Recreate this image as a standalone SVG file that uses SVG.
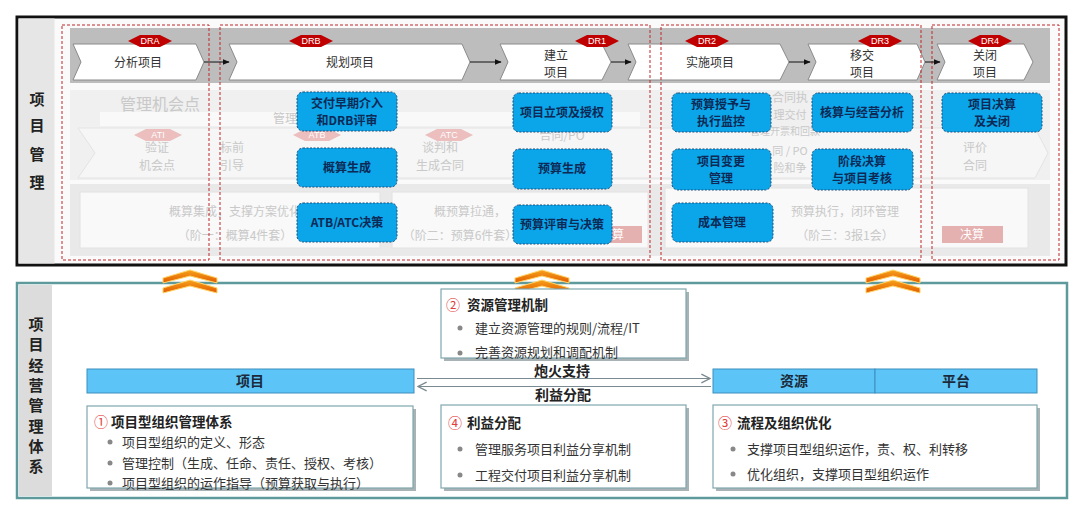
<svg xmlns="http://www.w3.org/2000/svg" width="1080" height="516" viewBox="0 0 1080 516">
<defs>
<style>
text{font-family:"Noto Sans CJK SC","Noto Sans",sans-serif;}
.lbl{font-size:15px;font-weight:bold;fill:#222;text-anchor:middle;}
.step{fill:#fff;stroke:#8a8a8a;stroke-width:1;}
.stxt{font-size:12px;fill:#333;text-anchor:middle;}
.dr{fill:#c00000;}
.drt{font-size:9px;fill:#fff;text-anchor:middle;font-family:"Liberation Sans",sans-serif;}
.dash{fill:none;stroke:#c0262b;stroke-width:1;stroke-dasharray:3,2;}
.blue{fill:#0ba5ea;stroke:#1d4f7a;stroke-width:1;stroke-dasharray:2,1.5;}
.btxt{font-size:12px;fill:#0c2a55;text-anchor:middle;font-weight:bold;}
.fade{font-size:12px;fill:#c4c4c4;text-anchor:middle;}
.fadeA{fill:#ebb8b8;}
.fadeAt{font-size:9px;fill:#fff;text-anchor:middle;font-family:"Liberation Sans",sans-serif;}
.hdr{fill:#5cc4f7;stroke:#3d8fbd;stroke-width:1;}
.htxt{font-size:14px;font-weight:bold;fill:#1b2a3a;text-anchor:middle;}
.card{fill:#fff;stroke:#7fa7ad;stroke-width:1.2;}
.shadow{fill:#a9b3b6;}
.ttl{font-size:13.5px;font-weight:bold;fill:#222;}
.num{font-size:14px;fill:#e23b3b;}
.bul{font-size:13px;fill:#333;}
.dot{fill:#888;}
.flow{stroke:#7a8a90;stroke-width:1.2;fill:none;}
.chev{fill:url(#og);stroke:#ffd56a;stroke-width:1;}
</style>
<linearGradient id="og" x1="0" y1="0" x2="0" y2="1">
<stop offset="0" stop-color="#f7a21b"/>
<stop offset="1" stop-color="#e25a00"/>
</linearGradient>
<marker id="ah" viewBox="0 0 10 10" refX="9" refY="5" markerWidth="7" markerHeight="7" orient="auto-start-reverse">
<path d="M0,1 L10,5 L0,9 Z" fill="#111"/>
</marker>
<marker id="oh" viewBox="0 0 10 10" refX="9" refY="5" markerWidth="9" markerHeight="9" orient="auto-start-reverse">
<path d="M1,1 L9,5 L1,9" fill="none" stroke="#7a8a90" stroke-width="1.2"/>
</marker>
</defs>

<rect width="1080" height="516" fill="#fff"/>

<!-- Top panel -->
<g id="top-panel">
<rect x="17" y="17" width="1049" height="248" fill="#fafafa" stroke="#111" stroke-width="3"/>
<rect x="18.5" y="18.5" width="36" height="245" fill="#e6e6e6"/>
<text class="lbl" x="37" y="105">项</text>
<text class="lbl" x="37" y="131">目</text>
<text class="lbl" x="37" y="160">管</text>
<text class="lbl" x="37" y="188">理</text>
<rect x="70" y="28" width="980" height="55" fill="#bdbdbd"/>
</g>

<!-- faded background content -->
<g id="faded" opacity="0.9">
<rect x="70" y="90" width="980" height="90" fill="#efefef"/>
<rect x="100" y="112" width="540" height="14" fill="#f9f9f9"/>
<polygon points="78,128 1035,128 1048,153 1035,178 78,178 95,153" fill="#f6f6f6" stroke="#e2e2e2"/>
<text class="fade" x="160" y="110" style="font-size:16px">管理机会点</text>
<text class="fade" x="285" y="123">管理</text>
<polygon class="fadeA" points="134,135 146,129 170,129 182,135 170,141 146,141"/>
<text class="fadeAt" x="158" y="138">ATI</text>
<polygon class="fadeA" points="293,135 305,129 329,129 341,135 329,141 305,141"/>
<text class="fadeAt" x="317" y="138">ATB</text>
<polygon class="fadeA" points="425,135 437,129 461,129 473,135 461,141 437,141"/>
<text class="fadeAt" x="449" y="138">ATC</text>
<text class="fade" x="157" y="152">验证</text>
<text class="fade" x="157" y="170">机会点</text>
<text class="fade" x="232" y="152">标前</text>
<text class="fade" x="232" y="170">引导</text>
<text class="fade" x="440" y="152">谈判和</text>
<text class="fade" x="440" y="170">生成合同</text>
<text class="fade" x="562" y="140">合同/PO</text>
<text class="fade" x="790" y="102" style="font-size:12px">合同执</text>
<text class="fade" x="790" y="119" style="font-size:11px">理交付</text>
<text class="fade" x="785" y="135" style="font-size:10px">管理开票和回款</text>
<text class="fade" x="790" y="155" style="font-size:11px">同 / PO</text>
<text class="fade" x="790" y="172" style="font-size:11px">险和争</text>
<text class="fade" x="975" y="152">评价</text>
<text class="fade" x="975" y="170">合同</text>
<rect x="70" y="184" width="980" height="72" fill="#e8e8e8"/>
<rect x="80" y="192" width="300" height="56" fill="#f9f9f9" stroke="#e0e0e0"/>
<rect x="392" y="192" width="256" height="56" fill="#f9f9f9" stroke="#e0e0e0"/>
<rect x="665" y="188" width="363" height="60" fill="#f9f9f9" stroke="#e0e0e0"/>
<text class="fade" x="235" y="216">概算集成，支撑方案优化</text>
<text class="fade" x="235" y="240">（阶一：概算4件套）</text>
<text class="fade" x="470" y="216">概预算拉通，</text>
<text class="fade" x="460" y="240">（阶二：预算6件套）</text>
<text class="fade" x="845" y="216">预算执行，闭环管理</text>
<text class="fade" x="845" y="240">（阶三：3报1会）</text>
<rect x="582" y="226" width="60" height="17" fill="#e3a8a8"/>
<text x="612" y="239" style="font-size:12px;fill:#fff;text-anchor:middle">决算</text>
<rect x="942" y="226" width="61" height="17" fill="#e3a8a8"/>
<text x="972" y="239" style="font-size:12px;fill:#fff;text-anchor:middle">决算</text>
</g>

<!-- process steps -->
<g id="step-analyze">
<polygon class="step" points="73,44 196,44 204,62 196,80 73,80 81,62"/>
<text class="stxt" x="138" y="67">分析项目</text>
</g>
<g id="step-plan">
<polygon class="step" points="229,44 462,44 470,62 462,80 229,80 237,62"/>
<text class="stxt" x="350" y="67">规划项目</text>
</g>
<g id="step-establish">
<polygon class="step" points="500,44 602,44 611,62 602,80 500,80 508,62"/>
<text class="stxt" x="556" y="60">建立</text>
<text class="stxt" x="556" y="77">项目</text>
</g>
<g id="step-implement">
<polygon class="step" points="628,44 780,44 789,62 780,80 628,80 636,62"/>
<text class="stxt" x="710" y="67">实施项目</text>
</g>
<g id="step-transfer">
<polygon class="step" points="808,44 917,44 925,62 917,80 808,80 816,62"/>
<text class="stxt" x="862" y="60">移交</text>
<text class="stxt" x="862" y="77">项目</text>
</g>
<g id="step-close">
<polygon class="step" points="937,44 1024,44 1033,62 1024,80 937,80 945,62"/>
<text class="stxt" x="985" y="60">关闭</text>
<text class="stxt" x="985" y="77">项目</text>
</g>

<!-- DR markers -->
<g id="dr-markers">
<polygon class="dr" points="128,41 140,35 160,35 172,41 160,47 140,47"/><text class="drt" x="150" y="44">DRA</text>
<polygon class="dr" points="289,41 301,35 321,35 333,41 321,47 301,47"/><text class="drt" x="311" y="44">DRB</text>
<polygon class="dr" points="575,41 587,35 607,35 619,41 607,47 587,47"/><text class="drt" x="597" y="44">DR1</text>
<polygon class="dr" points="685,41 697,35 717,35 729,41 717,47 697,47"/><text class="drt" x="707" y="44">DR2</text>
<polygon class="dr" points="858,41 870,35 890,35 902,41 890,47 870,47"/><text class="drt" x="880" y="44">DR3</text>
<polygon class="dr" points="968,41 980,35 1000,35 1012,41 1000,47 980,47"/><text class="drt" x="990" y="44">DR4</text>
</g>

<!-- phase dashed frames -->
<g id="phase-frames">
<rect class="dash" x="62" y="25" width="147" height="235"/>
<rect class="dash" x="220" y="25" width="430" height="235"/>
<rect class="dash" x="661" y="25" width="260" height="235"/>
<rect class="dash" x="932" y="25" width="127" height="235"/>
</g>

<!-- blue activity boxes -->
<g id="box-early"><rect class="blue" x="297" y="92" width="100" height="39" rx="6"/><text class="btxt" x="347" y="108">交付早期介入</text><text class="btxt" x="347" y="125">和DRB评审</text></g>
<g id="box-estimate"><rect class="blue" x="297" y="148" width="100" height="39" rx="6"/><text class="btxt" x="347" y="172">概算生成</text></g>
<g id="box-atb"><rect class="blue" x="297" y="203" width="100" height="39" rx="6"/><text class="btxt" x="347" y="227">ATB/ATC决策</text></g>
<g id="box-approve"><rect class="blue" x="513" y="93" width="99" height="39" rx="6"/><text class="btxt" x="562" y="117">项目立项及授权</text></g>
<g id="box-budget"><rect class="blue" x="513" y="149" width="99" height="40" rx="6"/><text class="btxt" x="562" y="173">预算生成</text></g>
<g id="box-review"><rect class="blue" x="513" y="205" width="99" height="39" rx="6"/><text class="btxt" x="562" y="229">预算评审与决策</text></g>
<g id="box-grant"><rect class="blue" x="672" y="93" width="99" height="39" rx="6"/><text class="btxt" x="721" y="109">预算授予与</text><text class="btxt" x="721" y="126">执行监控</text></g>
<g id="box-change"><rect class="blue" x="672" y="149" width="99" height="41" rx="6"/><text class="btxt" x="721" y="166">项目变更</text><text class="btxt" x="721" y="183">管理</text></g>
<g id="box-cost"><rect class="blue" x="672" y="203" width="101" height="39" rx="6"/><text class="btxt" x="722" y="227">成本管理</text></g>
<g id="box-account"><rect class="blue" x="812" y="93" width="101" height="39" rx="6"/><text class="btxt" x="862" y="117">核算与经营分析</text></g>
<g id="box-stage"><rect class="blue" x="812" y="149" width="101" height="41" rx="6"/><text class="btxt" x="862" y="166">阶段决算</text><text class="btxt" x="862" y="183">与项目考核</text></g>
<g id="box-final"><rect class="blue" x="942" y="93" width="100" height="39" rx="6"/><text class="btxt" x="992" y="109">项目决算</text><text class="btxt" x="992" y="126">及关闭</text></g>

<!-- Bottom panel -->
<g id="bottom-panel">
<rect x="17" y="283" width="1050" height="215" fill="#fff" stroke="#5e9a9c" stroke-width="2.5"/>
<rect x="19" y="285" width="33" height="211" fill="#dcdcdc"/>
<text class="lbl" x="36" y="330">项</text>
<text class="lbl" x="36" y="350">目</text>
<text class="lbl" x="36" y="371">经</text>
<text class="lbl" x="36" y="391">营</text>
<text class="lbl" x="36" y="411">管</text>
<text class="lbl" x="36" y="432">理</text>
<text class="lbl" x="36" y="452">体</text>
<text class="lbl" x="36" y="472">系</text>
</g>

<!-- orange up chevrons -->
<g id="up-chevrons">
<polygon class="chev" points="163,278 190,270 217,278 217,283 190,276 163,283"/>
<polygon class="chev" points="163,288 190,280 217,288 217,293 190,286 163,293"/>
<polygon class="chev" points="515,278 542,270 569,278 569,283 542,276 515,283"/>
<polygon class="chev" points="515,288 542,280 569,288 569,293 542,286 515,293"/>
<polygon class="chev" points="866,278 893,270 920,278 920,283 893,276 866,283"/>
<polygon class="chev" points="866,288 893,280 920,288 920,293 893,286 866,293"/>
</g>

<!-- header bars -->
<g id="hdr-project"><rect class="hdr" x="87" y="369" width="327" height="24"/><text class="htxt" x="250" y="386">项目</text></g>
<g id="hdr-resource"><rect class="hdr" x="713" y="369" width="162" height="24"/><text class="htxt" x="794" y="386">资源</text></g>
<g id="hdr-platform"><rect class="hdr" x="875" y="369" width="162" height="24"/><text class="htxt" x="956" y="386">平台</text></g>

<!-- connectors -->
<g id="connectors">
<line class="flow" x1="417" y1="378.5" x2="710" y2="378.5" marker-end="url(#oh)"/>
<line class="flow" x1="418" y1="386.5" x2="711" y2="386.5" marker-start="url(#oh)"/>
<text x="562" y="376" style="font-size:14px;font-weight:bold;fill:#222;text-anchor:middle">炮火支持</text>
<text x="563" y="400" style="font-size:14px;font-weight:bold;fill:#222;text-anchor:middle">利益分配</text>
<line x1="204" y1="62" x2="229" y2="62" stroke="#111" stroke-width="1" marker-end="url(#ah)"/>
<line x1="470" y1="62" x2="501" y2="62" stroke="#111" stroke-width="1" marker-end="url(#ah)"/>
<line x1="611" y1="62" x2="631" y2="62" stroke="#111" stroke-width="1" marker-end="url(#ah)"/>
<line x1="789" y1="62" x2="810" y2="62" stroke="#111" stroke-width="1" marker-end="url(#ah)"/>
<line x1="925" y1="62" x2="940" y2="62" stroke="#111" stroke-width="1" marker-end="url(#ah)"/>
</g>

<!-- cards -->
<g id="card-resource">
<rect class="shadow" x="444" y="292" width="245" height="69"/>
<rect class="card" x="441" y="289" width="245" height="69"/>
<text class="num" x="446" y="310">②</text>
<text class="ttl" x="467" y="310">资源管理机制</text>
<circle class="dot" cx="460" cy="328" r="2.5"/>
<text class="bul" x="475" y="333">建立资源管理的规则/流程/IT</text>
<circle class="dot" cx="460" cy="353" r="2.5"/>
<text class="bul" x="475" y="357">完善资源规划和调配机制</text>
</g>
<g id="card-org">
<rect class="shadow" x="90" y="409" width="326" height="82"/>
<rect class="card" x="87" y="406" width="326" height="82"/>
<text class="num" x="94" y="427">①</text>
<text class="ttl" x="111" y="427">项目型组织管理体系</text>
<circle class="dot" cx="110" cy="442" r="2.5"/>
<text class="bul" x="122" y="447">项目型组织的定义、形态</text>
<circle class="dot" cx="110" cy="463" r="2.5"/>
<text class="bul" x="122" y="468">管理控制（生成、任命、责任、授权、考核）</text>
<circle class="dot" cx="110" cy="483" r="2.5"/>
<text class="bul" x="122" y="488">项目型组织的运作指导（预算获取与执行）</text>
</g>
<g id="card-benefit">
<rect class="shadow" x="444" y="408" width="245" height="83"/>
<rect class="card" x="441" y="405" width="245" height="83"/>
<text class="num" x="448" y="428">④</text>
<text class="ttl" x="467" y="428">利益分配</text>
<circle class="dot" cx="460" cy="449" r="2.5"/>
<text class="bul" x="475" y="454">管理服务项目利益分享机制</text>
<circle class="dot" cx="460" cy="475" r="2.5"/>
<text class="bul" x="475" y="480">工程交付项目利益分享机制</text>
</g>
<g id="card-process">
<rect class="shadow" x="716" y="408" width="324" height="83"/>
<rect class="card" x="713" y="405" width="324" height="83"/>
<text class="num" x="718" y="428">③</text>
<text class="ttl" x="737" y="428">流程及组织优化</text>
<circle class="dot" cx="733" cy="449" r="2.5"/>
<text class="bul" x="747" y="454">支撑项目型组织运作，责、权、利转移</text>
<circle class="dot" cx="733" cy="474" r="2.5"/>
<text class="bul" x="747" y="479">优化组织，支撑项目型组织运作</text>
</g>
</svg>
